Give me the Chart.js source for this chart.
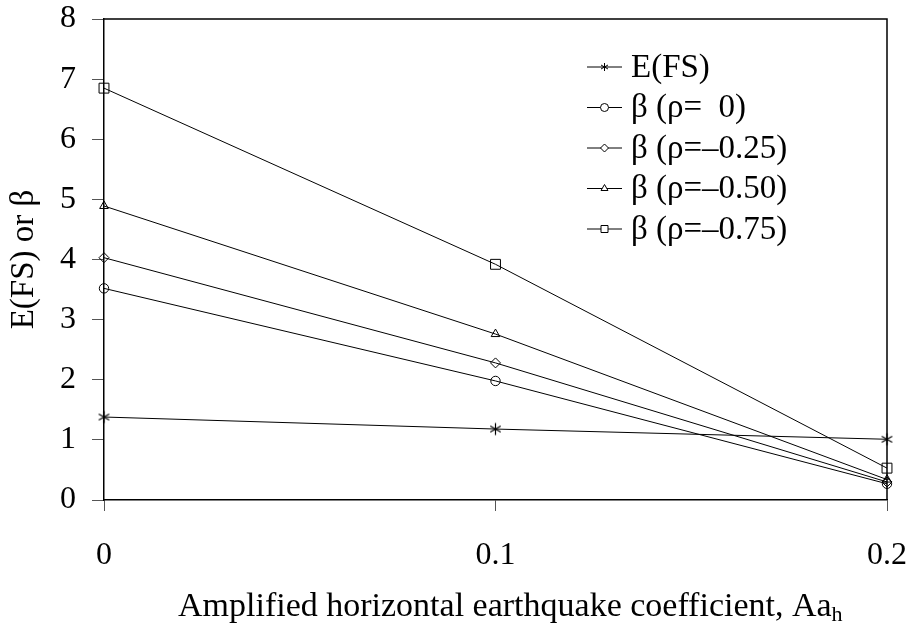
<!DOCTYPE html>
<html>
<head>
<meta charset="utf-8">
<script src="https://cdn.jsdelivr.net/npm/chart.js@4/dist/chart.umd.min.js"></script>
<style>
  body { margin: 0; background: #fff; }
  canvas { display: block; }
</style>
</head>
<body>
<canvas id="chart" width="912" height="625"></canvas>
<script>
// values
const xValues = [0, 0.1, 0.2];
const efs = [1.38, 1.18, 1.01];
const beta0 = [3.52, 1.98, 0.27];
const beta025 = [4.03, 2.28, 0.30];
const beta050 = [4.89, 2.76, 0.34];
const beta075 = [6.85, 3.92, 0.53];
const seriesLabels = ['E(FS)', 'β (ρ=  0)', 'β (ρ=–0.25)', 'β (ρ=–0.50)', 'β (ρ=–0.75)'];
const xTicks = [0, 0.1, 0.2];
const yTicks = [0, 1, 2, 3, 4, 5, 6, 7, 8];

const FONT = 'Liberation Serif, Times New Roman, serif';

// asterisk marker (X plus vertical bar), Chart.js has no 6-arm star
function makeStar(r) {
  const c = document.createElement('canvas');
  const s = Math.ceil(r * 2 + 3);
  c.width = s; c.height = s;
  const g = c.getContext('2d');
  const m = s / 2;
  g.strokeStyle = '#000';
  g.lineWidth = 1.2;
  g.beginPath();
  g.moveTo(m - r * 0.87, m - r * 0.5); g.lineTo(m + r * 0.87, m + r * 0.5);
  g.moveTo(m - r * 0.87, m + r * 0.5); g.lineTo(m + r * 0.87, m - r * 0.5);
  g.moveTo(m, m - r); g.lineTo(m, m + r);
  g.stroke();
  return c;
}

const styles = [makeStar(6), 'circle', 'rectRot', 'triangle', 'rect'];
const radii = [5, 4.7, 5, 5, 7];
const allSeries = [efs, beta0, beta025, beta050, beta075];

const datasets = allSeries.map((vals, i) => ({
  label: seriesLabels[i],
  data: vals.map((v, j) => ({ x: xValues[j], y: v })),
  borderColor: '#000',
  borderWidth: 1,
  backgroundColor: '#fff',
  pointStyle: styles[i],
  pointRadius: radii[i],
  pointBorderColor: '#000',
  pointBackgroundColor: 'rgba(0,0,0,0)',
  pointBorderWidth: 1,
  clip: false,
  tension: 0
}));

function drawMarker(ctx, kind, x, y, r) {
  ctx.beginPath();
  if (kind === 0) {
    ctx.moveTo(x - r * 0.87, y - r * 0.5); ctx.lineTo(x + r * 0.87, y + r * 0.5);
    ctx.moveTo(x - r * 0.87, y + r * 0.5); ctx.lineTo(x + r * 0.87, y - r * 0.5);
    ctx.moveTo(x, y - r); ctx.lineTo(x, y + r);
    ctx.stroke();
    return;
  }
  if (kind === 1) ctx.arc(x, y, r, 0, Math.PI * 2);
  if (kind === 2) { ctx.moveTo(x - r, y); ctx.lineTo(x, y - r); ctx.lineTo(x + r, y); ctx.lineTo(x, y + r); ctx.closePath(); }
  if (kind === 3) { ctx.moveTo(x, y - r); ctx.lineTo(x + r * 0.87, y + r * 0.5); ctx.lineTo(x - r * 0.87, y + r * 0.5); ctx.closePath(); }
  if (kind === 4) ctx.rect(x - r * 0.7, y - r * 0.7, r * 1.4, r * 1.4);
  ctx.fillStyle = '#fff';
  ctx.fill();
  ctx.stroke();
}

const decorations = {
  id: 'decorations',
  afterDraw(chart) {
    const ctx = chart.ctx;
    const a = chart.chartArea;
    ctx.save();
    // frame on top and right
    ctx.strokeStyle = '#000';
    ctx.lineWidth = 1.5;
    ctx.beginPath();
    ctx.moveTo(a.left, a.top); ctx.lineTo(a.right, a.top); ctx.lineTo(a.right, a.bottom);
    ctx.stroke();

    // legend
    ctx.lineWidth = 1;
    ctx.font = '33px ' + FONT;
    ctx.textBaseline = 'middle';
    ctx.textAlign = 'left';
    chart.data.datasets.forEach((ds, i) => {
      const y = 67 + i * 40.5;
      ctx.beginPath();
      ctx.moveTo(587, y); ctx.lineTo(622, y);
      ctx.stroke();
      drawMarker(ctx, i, 604.5, y, i === 4 ? 5 : 4);
      ctx.fillStyle = '#000';
      ctx.fillText(ds.label, 631, y + 1);
    });

    // x axis title with subscript
    ctx.fillStyle = '#000';
    ctx.textBaseline = 'alphabetic';
    const main = 'Amplified horizontal earthquake coefficient, Aa';
    ctx.font = '34px ' + FONT;
    const w1 = ctx.measureText(main).width;
    ctx.fillText(main, 178, 616);
    ctx.font = '22px ' + FONT;
    ctx.fillText('h', 178 + w1, 621);

    // y axis title
    ctx.font = '33px ' + FONT;
    ctx.translate(24, (a.top + a.bottom) / 2);
    ctx.rotate(-Math.PI / 2);
    ctx.textAlign = 'center';
    ctx.textBaseline = 'middle';
    ctx.fillText('E(FS) or β', 0, 0);
    ctx.restore();
  }
};

new Chart(document.getElementById('chart'), {
  type: 'line',
  data: { datasets: datasets },
  options: {
    responsive: false,
    animation: false,
    layout: { padding: { top: 19, right: 25, left: 0, bottom: 0 } },
    plugins: {
      legend: { display: false },
      tooltip: { enabled: false },
      title: { display: false }
    },
    scales: {
      x: {
        type: 'linear',
        min: 0,
        max: 0.2,
        afterFit(scale) { scale.height = 125; scale.paddingLeft = 0; scale.paddingRight = 0; },
        afterBuildTicks(scale) { scale.ticks = xTicks.map(v => ({ value: v })); },
        ticks: {
          padding: 25,
          color: '#000',
          font: { family: FONT, size: 32 },
          callback: v => String(Math.round(v * 10) / 10)
        },
        grid: { drawOnChartArea: false, drawTicks: true, tickLength: 11, color: '#555' },
        border: { display: true, color: '#000', width: 1.5 }
      },
      y: {
        min: 0,
        max: 8,
        afterFit(scale) { scale.width = 104; scale.paddingTop = 0; scale.paddingBottom = 0; },
        afterBuildTicks(scale) { scale.ticks = yTicks.map(v => ({ value: v })); },
        ticks: {
          padding: 16,
          color: '#000',
          font: { family: FONT, size: 32 }
        },
        grid: { drawOnChartArea: false, drawTicks: true, tickLength: 12, color: '#555' },
        border: { display: true, color: '#000', width: 1.5 }
      }
    }
  },
  plugins: [decorations]
});
</script>
</body>
</html>
